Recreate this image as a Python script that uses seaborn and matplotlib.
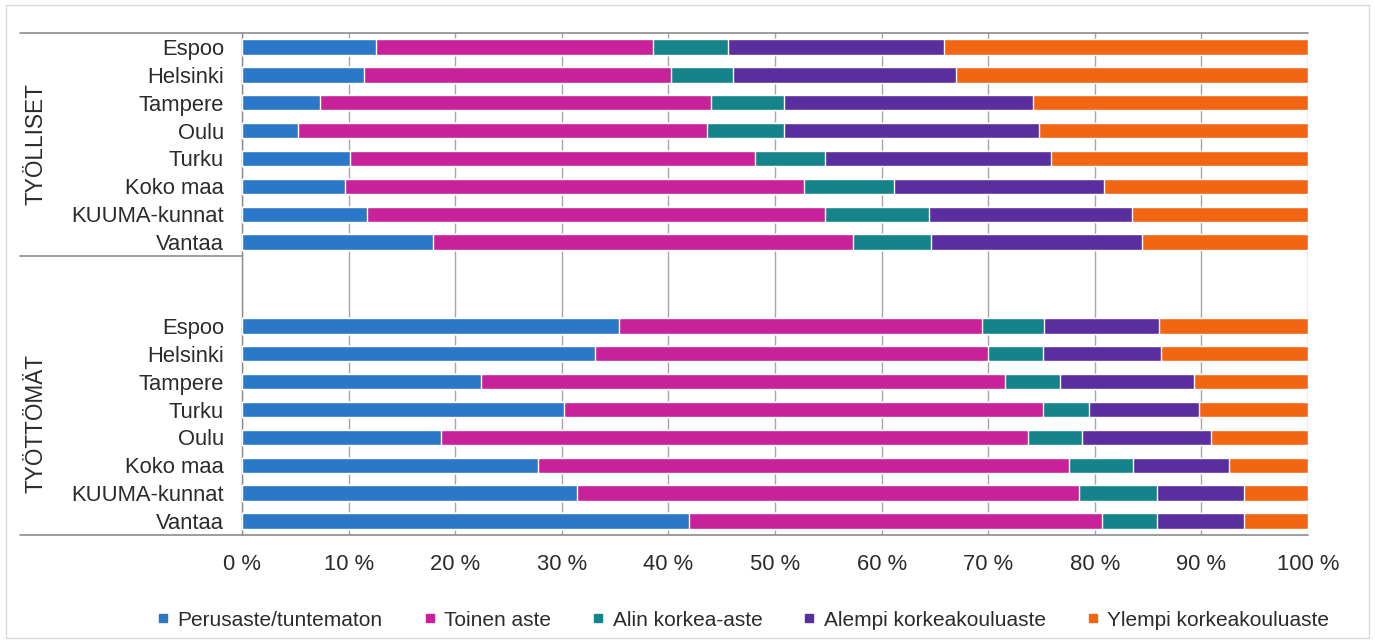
import matplotlib
matplotlib.use("Agg")
import matplotlib.pyplot as plt
import matplotlib.transforms as mtransforms
from matplotlib.lines import Line2D
from matplotlib.patches import Rectangle
import seaborn as sns
import pandas as pd
import numpy as np

# ---------------- data ----------------
levels = ["Perusaste/tuntematon", "Toinen aste", "Alin korkea-aste",
          "Alempi korkeakouluaste", "Ylempi korkeakouluaste"]
colors = ["#2B78C8", "#C8219A", "#15848A", "#5A2E9E", "#F26513"]

groups = ["TYÖLLISET", "TYÖTTÖMÄT"]
cities_employed = ["Espoo", "Helsinki", "Tampere", "Oulu", "Turku",
                   "Koko maa", "KUUMA-kunnat", "Vantaa"]
cities_unemployed = ["Espoo", "Helsinki", "Tampere", "Turku", "Oulu",
                     "Koko maa", "KUUMA-kunnat", "Vantaa"]

employed_perus = [12.6, 11.4, 7.3, 5.3, 10.1, 9.7, 11.7, 17.9]
employed_toinen = [26.0, 28.8, 36.7, 38.3, 38.0, 43.0, 43.0, 39.4]
employed_alin = [7.0, 5.9, 6.8, 7.2, 6.6, 8.5, 9.7, 7.3]
employed_alempi = [20.3, 20.9, 23.4, 24.0, 21.2, 19.7, 19.1, 19.8]
employed_ylempi = [34.1, 33.0, 25.8, 25.2, 24.1, 19.1, 16.5, 15.6]

unemployed_perus = [35.4, 33.1, 22.4, 30.2, 18.7, 27.8, 31.4, 41.9]
unemployed_toinen = [34.0, 36.9, 49.2, 44.9, 55.0, 49.8, 47.1, 38.8]
unemployed_alin = [5.8, 5.1, 5.1, 4.4, 5.1, 6.0, 7.3, 5.1]
unemployed_alempi = [10.8, 11.1, 12.6, 10.3, 12.1, 9.0, 8.2, 8.2]
unemployed_ylempi = [14.0, 13.8, 10.7, 10.2, 9.1, 7.4, 6.0, 6.0]

x_ticks = [0, 10, 20, 30, 40, 50, 60, 70, 80, 90, 100]
x_ticklabels = [f"{v} %" for v in x_ticks]

# ---------------- table ----------------
employed = [employed_perus, employed_toinen, employed_alin, employed_alempi, employed_ylempi]
unemployed = [unemployed_perus, unemployed_toinen, unemployed_alin, unemployed_alempi, unemployed_ylempi]

rows = []
slot_order = []
slot_labels = []
for g, cities, vals in [(groups[0], cities_employed, employed),
                        (groups[1], cities_unemployed, unemployed)]:
    arr = np.array(vals)              # levels x cities
    cum = np.cumsum(arr, axis=0)
    for j, c in enumerate(cities):
        slot = f"{g}|{c}"
        slot_order.append(slot)
        slot_labels.append(c)
        for i, lvl in enumerate(levels):
            rows.append({"slot": slot, "level": lvl, "cum": cum[i, j]})
    if g == groups[0]:
        for k in range(2):
            slot_order.append(f"gap{k}")
            slot_labels.append("")
df = pd.DataFrame(rows)

# ---------------- plot ----------------
sns.set_style("white")
plt.rcParams["font.family"] = ["Liberation Sans", "DejaVu Sans"]
text_color = "#2b2b2b"
fs = 15.8

W, H = 1375, 642
fig = plt.figure(figsize=(W / 100, H / 100), dpi=100)
L, R, T, B = 242, 1308, 33, 535
ax = fig.add_axes([L / W, 1 - B / H, (R - L) / W, (B - T) / H])

for lvl, col in reversed(list(zip(levels, colors))):
    sns.barplot(data=df[df["level"] == lvl], x="cum", y="slot", order=slot_order,
                orient="h", color=col, saturation=1, width=0.55,
                edgecolor="white", linewidth=1, ax=ax, zorder=3)

ax.set_xlim(0, 100)
ax.set_ylim(len(slot_order) - 0.5, -0.5)
ax.set_xlabel("")
ax.set_ylabel("")
ax.set_xticks(x_ticks)
ax.set_xticklabels(x_ticklabels, fontsize=fs, color=text_color)
ax.set_yticks(range(len(slot_order)))
ax.set_yticklabels(slot_labels, fontsize=fs, color=text_color)
ax.tick_params(axis="y", length=0, pad=13)
ax.tick_params(axis="x", direction="out", length=6, width=1, color="#8c8c8c", pad=8)

ax.grid(axis="x", color="#a6a6a6", linewidth=1)
ax.grid(axis="y", visible=False)
ax.set_axisbelow(True)

for s in ["top", "bottom", "right"]:
    ax.spines[s].set_visible(False)
ax.spines["left"].set_color("#8c8c8c")
ax.spines["left"].set_linewidth(1)

trans = mtransforms.blended_transform_factory(ax.transAxes, ax.transData)
x_left = (20 - L) / (R - L)
n = len(slot_order)
ax.plot([x_left, 1], [-0.5, -0.5], transform=trans, color="#8c8c8c", lw=1.2, clip_on=False, zorder=5)
ax.plot([x_left, 1], [n - 0.5, n - 0.5], transform=trans, color="#8c8c8c", lw=1.2, clip_on=False, zorder=5)
ax.plot([x_left, 0], [7.5, 7.5], transform=trans, color="#8c8c8c", lw=1.2, clip_on=False, zorder=5)

x_grp = (36 - L) / (R - L)
ax.text(x_grp, 3.5, groups[0], transform=trans, rotation=90, ha="center", va="center",
        fontsize=16.3, color=text_color)
ax.text(x_grp, 13.5, groups[1], transform=trans, rotation=90, ha="center", va="center",
        fontsize=16.3, color=text_color)

handles = [Line2D([], [], marker="s", linestyle="", color=c, markersize=6) for c in colors]
fig.legend(handles, levels, loc="center", bbox_to_anchor=(742 / W, 1 - 620 / H), ncol=5,
           frameon=False, fontsize=15, handletextpad=0.3, columnspacing=1.85,
           handlelength=0.8, labelcolor=text_color)

fig.patches.append(Rectangle((6 / W, 1 - 638 / H), (1369 - 6) / W, (638 - 5) / H,
                             transform=fig.transFigure, fill=False,
                             edgecolor="#d9d9d9", linewidth=1))

fig.savefig("out.png", dpi=100)
